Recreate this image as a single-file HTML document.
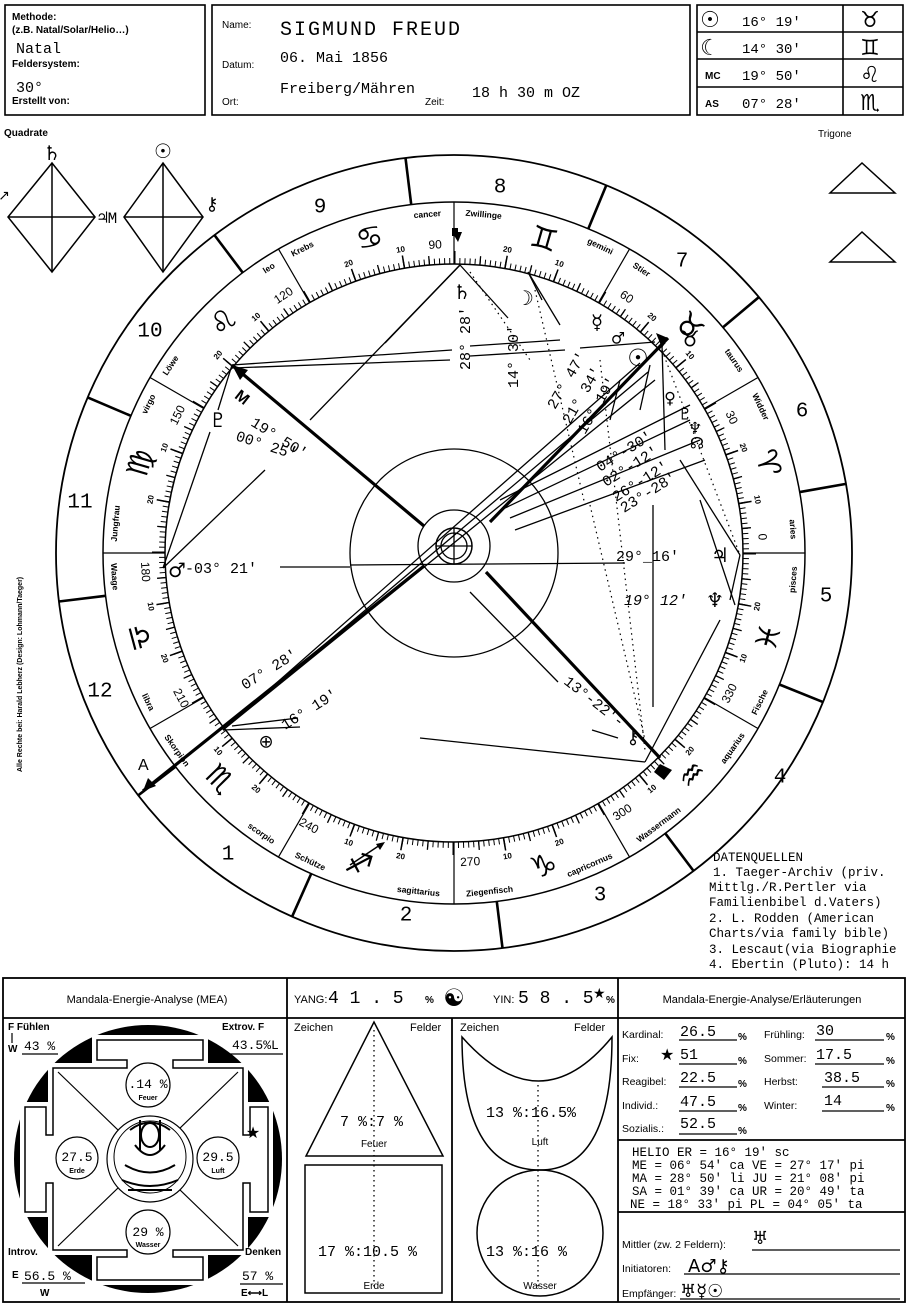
<!DOCTYPE html>
<html><head><meta charset="utf-8">
<style>
html,body{margin:0;padding:0;background:#fff;}
svg{display:block;}
.s{font-family:"Liberation Sans",sans-serif;}
.m{font-family:"Liberation Mono",monospace;}
.d{font-family:"DejaVu Sans",sans-serif;}
.pre{white-space:pre;}
</style></head><body>
<svg width="908" height="1309" viewBox="0 0 908 1309" xmlns="http://www.w3.org/2000/svg">
<rect width="908" height="1309" fill="#fff"/>

<!-- HEADER -->
<g fill="none" stroke="#000" stroke-width="1.6">
<rect x="5" y="5" width="200" height="110"/>
<rect x="212" y="5" width="478" height="110"/>
<rect x="697" y="5" width="206" height="110"/>
<line x1="843" y1="5" x2="843" y2="115"/>
<line x1="697" y1="32" x2="903" y2="32"/>
<line x1="697" y1="59" x2="903" y2="59"/>
<line x1="697" y1="87" x2="903" y2="87"/>
</g>
<g class="s" font-size="10" font-weight="bold">
<text x="12" y="20">Methode:</text>
<text x="12" y="33">(z.B. Natal/Solar/Helio…)</text>
<text x="12" y="67">Feldersystem:</text>
<text x="12" y="104">Erstellt von:</text>
<text x="222" y="28" font-weight="normal">Name:</text>
<text x="222" y="68" font-weight="normal">Datum:</text>
<text x="222" y="105" font-weight="normal">Ort:</text>
<text x="425" y="105" font-weight="normal">Zeit:</text>
<text x="705" y="79">MC</text>
<text x="705" y="107">AS</text>
<text x="818" y="137" font-weight="normal">Trigone</text>
<text x="4" y="136">Quadrate</text>
</g>
<g class="m" font-size="15">
<text x="16" y="53">Natal</text>
<text x="16" y="92">30°</text>
<text x="280" y="35" font-size="20" letter-spacing="2">SIGMUND FREUD</text>
<text x="280" y="62">06. Mai 1856</text>
<text x="280" y="93">Freiberg/Mähren</text>
<text x="472" y="97">18 h 30 m  OZ</text>
<text x="742" y="26" font-size="14">16° 19'</text>
<text x="742" y="53" font-size="14">14° 30'</text>
<text x="742" y="80" font-size="14">19° 50'</text>
<text x="742" y="108" font-size="14">07° 28'</text>
</g>
<g class="d" font-size="22" text-anchor="middle">
<text x="710" y="27">☉</text>
<text x="710" y="55">☾</text>
<text x="870" y="27">♉</text>
<text x="870" y="55">♊</text>
<text x="870" y="82">♌</text>
<text x="870" y="110">♏</text>
</g>

<!-- quadrate / trigone -->
<g fill="none" stroke="#000" stroke-width="1.5">
<polygon points="52,163 95,217 52,272 8,217"/>
<line x1="52" y1="163" x2="52" y2="272"/><line x1="8" y1="217" x2="95" y2="217"/>
<polygon points="163,163 203,217 163,272 124,217"/>
<line x1="163" y1="163" x2="163" y2="272"/><line x1="124" y1="217" x2="203" y2="217"/>
<polygon points="830,193 895,193 862,163"/>
<polygon points="830,262 895,262 862,232"/>
</g>
<g class="d" font-size="20" text-anchor="middle">
<text x="52" y="160">♄</text>
<text x="163" y="158">☉</text>
<text x="212" y="210" font-size="18">⚷</text>
<text x="4" y="200" font-size="14">↗</text>
</g>
<text x="98" y="223" class="m" font-size="16">♃M</text>

<!-- side text -->
<text class="s" font-size="7" font-weight="bold" transform="translate(22,772) rotate(-90)">Alle Rechte bei: Harald Lebherz (Design: Lohmann/Taeger)</text>

<!-- WHEEL -->
<g fill="none" stroke="#000">
<circle cx="454" cy="553" r="398" stroke-width="1.8"/>
<circle cx="454" cy="553" r="351" stroke-width="1.5"/>
<circle cx="454" cy="553" r="289" stroke-width="1.5"/>
<circle cx="454" cy="553" r="292" stroke-width="6" stroke-dasharray="1 4.097"/>
<circle cx="454" cy="553" r="293.5" stroke-width="9" stroke-dasharray="1.3 24.31"/>
<circle cx="454" cy="553" r="295.5" stroke-width="13" stroke-dasharray="1.5 50.07"/>
<circle cx="454" cy="553" r="104" stroke-width="1.3"/>
<circle cx="454" cy="546" r="36" stroke-width="1.3"/>
<circle cx="454" cy="546" r="18" stroke-width="1.5"/>
<circle cx="454" cy="546" r="13" stroke-width="1.3"/>
<line x1="436" y1="546" x2="472" y2="546" stroke-width="1.3"/>
<line x1="454" y1="528" x2="454" y2="564" stroke-width="1.3"/>
</g>
<!-- sign boundaries -->
<g stroke="#000" stroke-width="1.2">
<line x1="743" y1="553" x2="805" y2="553" transform="rotate(0 454 553)"/>
<line x1="743" y1="553" x2="805" y2="553" transform="rotate(-30 454 553)"/>
<line x1="743" y1="553" x2="805" y2="553" transform="rotate(-60 454 553)"/>
<line x1="743" y1="553" x2="805" y2="553" transform="rotate(-90 454 553)"/>
<line x1="743" y1="553" x2="805" y2="553" transform="rotate(-120 454 553)"/>
<line x1="743" y1="553" x2="805" y2="553" transform="rotate(-150 454 553)"/>
<line x1="743" y1="553" x2="805" y2="553" transform="rotate(-180 454 553)"/>
<line x1="743" y1="553" x2="805" y2="553" transform="rotate(-210 454 553)"/>
<line x1="743" y1="553" x2="805" y2="553" transform="rotate(-240 454 553)"/>
<line x1="743" y1="553" x2="805" y2="553" transform="rotate(-270 454 553)"/>
<line x1="743" y1="553" x2="805" y2="553" transform="rotate(-300 454 553)"/>
<line x1="743" y1="553" x2="805" y2="553" transform="rotate(-330 454 553)"/>
</g>
<!-- house cusps -->
<g stroke="#000" stroke-width="2.6">
<line x1="805" y1="553" x2="852" y2="553" transform="rotate(-127 454 553)"/>
<line x1="805" y1="553" x2="852" y2="553" transform="rotate(-97 454 553)"/>
<line x1="805" y1="553" x2="852" y2="553" transform="rotate(-67.5 454 553)"/>
<line x1="805" y1="553" x2="852" y2="553" transform="rotate(-40 454 553)"/>
<line x1="805" y1="553" x2="852" y2="553" transform="rotate(-10 454 553)"/>
<line x1="805" y1="553" x2="852" y2="553" transform="rotate(-338 454 553)"/>
<line x1="805" y1="553" x2="852" y2="553" transform="rotate(-307 454 553)"/>
<line x1="805" y1="553" x2="852" y2="553" transform="rotate(-277 454 553)"/>
<line x1="805" y1="553" x2="852" y2="553" transform="rotate(-246 454 553)"/>
<line x1="805" y1="553" x2="852" y2="553" transform="rotate(-217.5 454 553)"/>
<line x1="805" y1="553" x2="852" y2="553" transform="rotate(-187 454 553)"/>
<line x1="805" y1="553" x2="852" y2="553" transform="rotate(-157 454 553)"/>
</g>
<!-- house numbers -->
<g class="m" font-size="21" text-anchor="middle" dominant-baseline="central">
<text x="320" y="208">9</text><text x="500" y="188">8</text><text x="682" y="262">7</text>
<text x="802" y="412">6</text><text x="826" y="597">5</text><text x="780" y="778">4</text>
<text x="600" y="896">3</text><text x="406" y="916">2</text><text x="228" y="855">1</text>
<text x="100" y="692">12</text><text x="80" y="503">11</text><text x="150" y="332">10</text>
</g>
<!-- sign names -->
<g class="s" font-size="8.5" font-weight="bold" text-anchor="middle" dominant-baseline="central">
<text transform="rotate(-94.5 454 553) translate(794 553) rotate(90)">cancer</text>
<text transform="rotate(-85 454 553) translate(794 553) rotate(90)">Zwillinge</text>
<text transform="rotate(-64.5 454 553) translate(794 553) rotate(90)">gemini</text>
<text transform="rotate(-56.5 454 553) translate(794 553) rotate(90)">Stier</text>
<text transform="rotate(-34.5 454 553) translate(794 553) rotate(90)">taurus</text>
<text transform="rotate(-25.5 454 553) translate(794 553) rotate(90)">Widder</text>
<text transform="rotate(-4 454 553) translate(794 553) rotate(90)">aries</text>
<text transform="rotate(-355.5 454 553) translate(794 553) rotate(-90)">pisces</text>
<text transform="rotate(-334 454 553) translate(794 553) rotate(-90)">Fische</text>
<text transform="rotate(-325 454 553) translate(794 553) rotate(-90)">aquarius</text>
<text transform="rotate(-307 454 553) translate(794 553) rotate(-90)">Wassermann</text>
<text transform="rotate(-293.5 454 553) translate(794 553) rotate(-90)">capricornus</text>
<text transform="rotate(-276 454 553) translate(794 553) rotate(-90)">Ziegenfisch</text>
<text transform="rotate(-264 454 553) translate(794 553) rotate(-90)">sagittarius</text>
<text transform="rotate(-245 454 553) translate(794 553) rotate(-90)">Schütze</text>
<text transform="rotate(-235.5 454 553) translate(794 553) rotate(-90)">scorpio</text>
<text transform="rotate(-215.5 454 553) translate(794 553) rotate(-90)">Skorpion</text>
<text transform="rotate(-206 454 553) translate(794 553) rotate(-90)">libra</text>
<text transform="rotate(-184 454 553) translate(794 553) rotate(-90)">Waage</text>
<text transform="rotate(-175 454 553) translate(794 553) rotate(90)">Jungfrau</text>
<text transform="rotate(-154 454 553) translate(794 553) rotate(90)">virgo</text>
<text transform="rotate(-146.5 454 553) translate(794 553) rotate(90)">Löwe</text>
<text transform="rotate(-123 454 553) translate(794 553) rotate(90)">leo</text>
<text transform="rotate(-116.5 454 553) translate(794 553) rotate(90)">Krebs</text>
</g>
<!-- degree numbers -->
<g class="s" font-size="8" font-weight="bold" text-anchor="middle" dominant-baseline="central">
<text transform="rotate(-10 454 553) translate(762 553) rotate(90)">10</text>
<text transform="rotate(-20 454 553) translate(762 553) rotate(90)">20</text>
<text transform="rotate(-40 454 553) translate(762 553) rotate(90)">10</text>
<text transform="rotate(-50 454 553) translate(762 553) rotate(90)">20</text>
<text transform="rotate(-70 454 553) translate(762 553) rotate(90)">10</text>
<text transform="rotate(-80 454 553) translate(762 553) rotate(90)">20</text>
<text transform="rotate(-100 454 553) translate(762 553) rotate(90)">10</text>
<text transform="rotate(-110 454 553) translate(762 553) rotate(90)">20</text>
<text transform="rotate(-130 454 553) translate(762 553) rotate(90)">10</text>
<text transform="rotate(-140 454 553) translate(762 553) rotate(90)">20</text>
<text transform="rotate(-160 454 553) translate(762 553) rotate(90)">10</text>
<text transform="rotate(-170 454 553) translate(762 553) rotate(90)">20</text>
<text transform="rotate(-190 454 553) translate(762 553) rotate(-90)">10</text>
<text transform="rotate(-200 454 553) translate(762 553) rotate(-90)">20</text>
<text transform="rotate(-220 454 553) translate(762 553) rotate(-90)">10</text>
<text transform="rotate(-230 454 553) translate(762 553) rotate(-90)">20</text>
<text transform="rotate(-250 454 553) translate(762 553) rotate(-90)">10</text>
<text transform="rotate(-260 454 553) translate(762 553) rotate(-90)">20</text>
<text transform="rotate(-280 454 553) translate(762 553) rotate(-90)">10</text>
<text transform="rotate(-290 454 553) translate(762 553) rotate(-90)">20</text>
<text transform="rotate(-310 454 553) translate(762 553) rotate(-90)">10</text>
<text transform="rotate(-320 454 553) translate(762 553) rotate(-90)">20</text>
<text transform="rotate(-340 454 553) translate(762 553) rotate(-90)">10</text>
<text transform="rotate(-350 454 553) translate(762 553) rotate(-90)">20</text>
</g>
<g class="s" font-size="12" text-anchor="middle" dominant-baseline="central">
<text transform="rotate(-3 454 553) translate(763 553) rotate(90)">0</text>
<text transform="rotate(-26 454 553) translate(763 553) rotate(90)">30</text>
<text transform="rotate(-56 454 553) translate(763 553) rotate(90)">60</text>
<text transform="rotate(-93.5 454 553) translate(763 553) rotate(90)">90</text>
<text transform="rotate(-123.5 454 553) translate(763 553) rotate(90)">120</text>
<text transform="rotate(-153.5 454 553) translate(763 553) rotate(90)">150</text>
<text transform="rotate(-183.5 454 553) translate(763 553) rotate(-90)">180</text>
<text transform="rotate(-208 454 553) translate(763 553) rotate(-90)">210</text>
<text transform="rotate(-242 454 553) translate(763 553) rotate(-90)">240</text>
<text transform="rotate(-273 454 553) translate(763 553) rotate(-90)">270</text>
<text transform="rotate(-303 454 553) translate(763 553) rotate(-90)">300</text>
<text transform="rotate(-333 454 553) translate(763 553) rotate(-90)">330</text>
</g>
<!-- sign glyphs -->
<g class="d" font-size="30" text-anchor="middle" dominant-baseline="central">
<text transform="rotate(-16 454 553) translate(780 553) rotate(90)">♈</text>
<text transform="rotate(-44 454 553) translate(780 553) rotate(90)">♉</text>
<text transform="rotate(-74 454 553) translate(780 553) rotate(90)">♊</text>
<text transform="rotate(-105 454 553) translate(780 553) rotate(90)">♋</text>
<text transform="rotate(-135 454 553) translate(780 553) rotate(90)">♌</text>
<text transform="rotate(-164 454 553) translate(780 553) rotate(90)">♍</text>
<text transform="rotate(-195 454 553) translate(780 553) rotate(-90)">♎</text>
<text transform="rotate(-224 454 553) translate(780 553) rotate(-90)">♏</text>
<text transform="rotate(-253 454 553) translate(780 553) rotate(-90)">♐</text>
<text transform="rotate(-286 454 553) translate(780 553) rotate(-90)">♑</text>
<text transform="rotate(-317 454 553) translate(780 553) rotate(-90)">♒</text>
<text transform="rotate(-345 454 553) translate(780 553) rotate(-90)">♓</text>
</g>

<!-- axes -->
<g stroke="#000" stroke-width="3.2" fill="none">
<line x1="232" y1="365" x2="424" y2="526"/>
<line x1="486" y1="572" x2="660" y2="758"/>
<line x1="143" y1="791" x2="424" y2="566"/>
<line x1="490" y1="522" x2="668" y2="338"/>
</g>
<polygon points="143,791 148,778 156,786" fill="#000"/>
<polygon points="232,365 248,370 240,380" fill="#000"/>
<polygon points="668,338 656,333 662,348" fill="#000"/>
<polygon points="660,764 672,770 664,780 654,772" fill="#000"/>
<polygon points="458,242 462,232 452,232" fill="#000"/>
<rect x="452" y="228" width="6" height="8" fill="#000"/>
<text x="138" y="770" class="s" font-size="16">A</text>
<text x="236" y="405" class="s" font-size="16" font-weight="bold" transform="rotate(38 246 398)">M</text>

<!-- aspect lines -->
<g stroke="#000" stroke-width="1.3" fill="none">
<line x1="460" y1="265" x2="385" y2="343"/>
<line x1="460" y1="265" x2="310" y2="420"/>
<line x1="460" y1="265" x2="508" y2="318"/>
<line x1="528" y1="272" x2="560" y2="325"/>
<line x1="528" y1="272" x2="542" y2="300"/>
<line x1="232" y1="365" x2="452" y2="350"/>
<line x1="232" y1="368" x2="450" y2="360"/>
<line x1="470" y1="346" x2="560" y2="340"/>
<line x1="470" y1="356" x2="565" y2="350"/>
<line x1="580" y1="348" x2="655" y2="342"/>
<line x1="232" y1="365" x2="218" y2="410"/>
<line x1="163" y1="568" x2="265" y2="470"/>
<line x1="163" y1="568" x2="210" y2="432"/>
<line x1="280" y1="567" x2="350" y2="567"/>
<line x1="350" y1="565" x2="625" y2="563"/>
<line x1="223" y1="730" x2="640" y2="363"/>
<line x1="223" y1="730" x2="648" y2="372"/>
<line x1="223" y1="730" x2="655" y2="380"/>
<line x1="223" y1="730" x2="300" y2="727"/>
<line x1="420" y1="738" x2="645" y2="762"/>
<line x1="298" y1="718" x2="232" y2="726"/>
<line x1="470" y1="592" x2="558" y2="682"/>
<line x1="592" y1="730" x2="618" y2="738"/>
<line x1="653" y1="505" x2="653" y2="707"/>
<line x1="645" y1="762" x2="720" y2="620"/>
<line x1="680" y1="460" x2="740" y2="555"/>
<line x1="700" y1="500" x2="735" y2="605"/>
<line x1="740" y1="555" x2="730" y2="600"/>
<line x1="500" y1="500" x2="690" y2="405"/>
<line x1="505" y1="508" x2="690" y2="420"/>
<line x1="510" y1="518" x2="700" y2="440"/>
<line x1="515" y1="530" x2="705" y2="460"/>
<line x1="640" y1="410" x2="650" y2="365"/>
<line x1="610" y1="420" x2="620" y2="380"/>
<line x1="662" y1="345" x2="665" y2="450"/>
</g>
<g stroke="#000" stroke-width="1.2" stroke-dasharray="1.5 4" fill="none">
<line x1="470" y1="272" x2="530" y2="360"/>
<line x1="535" y1="290" x2="585" y2="505"/>
<line x1="590" y1="505" x2="645" y2="740"/>
<line x1="600" y1="360" x2="645" y2="750"/>
<line x1="660" y1="345" x2="740" y2="555"/>
</g>
<!-- planet glyphs -->
<g class="d" font-size="20" text-anchor="middle" dominant-baseline="central">
<text x="462" y="292">♄</text>
<text x="525" y="298">☽</text>
<text x="597" y="322">☿</text>
<text x="618" y="338" font-size="16">♂</text>
<text x="638" y="358" font-size="24">☉</text>
<text x="670" y="398" font-size="16">♀</text>
<text x="685" y="414" font-size="16">♇</text>
<text x="695" y="428" font-size="16">♆</text>
<text x="697" y="443" font-size="16">☊</text>
<text x="720" y="555">♃</text>
<text x="715" y="600">♆</text>
<text x="633" y="738" font-size="18">⚷</text>
<text x="218" y="420">♇</text>
<text x="266" y="742" font-size="18">⊕</text>
<text x="177" y="570">♂</text>
<text x="690" y="340" font-size="22">♉</text>
</g>
<!-- degree texts -->
<g class="m" font-size="15">
<text transform="translate(470 370) rotate(-90)">28° 28'</text>
<text transform="translate(518 388) rotate(-90)">14° 30'</text>
<text transform="translate(555 410) rotate(-60)">27° 47'</text>
<text transform="translate(570 425) rotate(-60)">21° 34'</text>
<text transform="translate(585 435) rotate(-60)">16° 19'</text>
<text transform="translate(600 472) rotate(-32)">04°-30'</text>
<text transform="translate(606 487) rotate(-32)">02°-12'</text>
<text transform="translate(616 502) rotate(-32)">26°-12'</text>
<text transform="translate(624 513) rotate(-32)">23°-28'</text>
<text x="616" y="561">29°_16'</text>
<text x="624" y="605" font-style="italic">19°  12'</text>
<text transform="translate(563 683) rotate(38)">13°-22'-</text>
<text x="185" y="573">-03° 21'</text>
<text transform="translate(250 425) rotate(32)">19° 50'</text>
<text transform="translate(235 440) rotate(18)">00° 25'</text>
<text transform="translate(245 690) rotate(-32)">07° 28'</text>
<text transform="translate(285 730) rotate(-32)">16° 19'</text>
</g>
<line x1="350" y1="865" x2="380" y2="845" stroke="#000" stroke-width="1.5"/>
<polygon points="385,842 376,844 380,850" fill="#000"/>

<!-- data sources -->
<g class="m" font-size="12.5">
<text x="713" y="861">DATENQUELLEN</text>
<text x="713" y="876"> 1. Taeger-Archiv (priv.</text>
<text x="709" y="891">Mittlg./R.Pertler via</text>
<text x="709" y="906">Familienbibel d.Vaters)</text>
<text x="709" y="922">2. L. Rodden (American</text>
<text x="709" y="937">Charts/via family bible)</text>
<text x="709" y="953">3. Lescaut(via Biographie</text>
<text x="709" y="968">4. Ebertin (Pluto): 14 h</text>
</g>

<!-- BOTTOM PANEL -->
<g fill="none" stroke="#000" stroke-width="1.8">
<rect x="3" y="978" width="902" height="324"/>
<line x1="3" y1="1018" x2="905" y2="1018"/>
<line x1="287" y1="978" x2="287" y2="1302"/>
<line x1="618" y1="978" x2="618" y2="1302"/>
<line x1="452" y1="1018" x2="452" y2="1302"/>
<line x1="618" y1="1140" x2="905" y2="1140"/>
<line x1="618" y1="1212" x2="905" y2="1212"/>
</g>
<g class="s" font-size="11" text-anchor="middle">
<text x="147" y="1003">Mandala-Energie-Analyse (MEA)</text>
<text x="762" y="1003">Mandala-Energie-Analyse/Erläuterungen</text>
</g>
<text x="294" y="1003" class="s" font-size="11">YANG:</text>
<text x="328" y="1003" class="m" font-size="18">4 1 . 5</text>
<text x="425" y="1003" class="s" font-size="10" font-weight="bold">%</text>
<text x="454" y="1006" class="d" font-size="24" text-anchor="middle">☯</text>
<text x="493" y="1003" class="s" font-size="11">YIN:</text>
<text x="518" y="1003" class="m" font-size="18">5 8 . 5</text>
<text x="593" y="998" class="d" font-size="14">★</text>
<text x="606" y="1003" class="s" font-size="10" font-weight="bold">%</text>

<!-- mandala -->
<circle cx="148" cy="1159" r="134" fill="#000"/>
<path d="M97,1040 H203 V1060 H173 V1068 H243 V1135 H250 V1107 H268 V1212 H250 V1183 H243 V1250 H173 V1257 H203 V1280 H97 V1257 H127 V1250 H53 V1183 H46 V1212 H25 V1107 H46 V1135 H53 V1068 H127 V1060 H97 Z" fill="#fff" stroke="#fff" stroke-width="10"/>
<path d="M97,1040 H203 V1060 H173 V1068 H243 V1135 H250 V1107 H268 V1212 H250 V1183 H243 V1250 H173 V1257 H203 V1280 H97 V1257 H127 V1250 H53 V1183 H46 V1212 H25 V1107 H46 V1135 H53 V1068 H127 V1060 H97 Z" fill="none" stroke="#000" stroke-width="1.5"/>
<g stroke="#000" stroke-width="1.2" fill="#fff">
<line x1="58" y1="1072" x2="238" y2="1246"/>
<line x1="238" y1="1072" x2="58" y2="1246"/>
<circle cx="148" cy="1085" r="22"/>
<circle cx="148" cy="1232" r="22"/>
<circle cx="77" cy="1158" r="21"/>
<circle cx="218" cy="1158" r="21"/>
<circle cx="150" cy="1159" r="43"/>
<circle cx="150" cy="1157" r="36" fill="none" stroke-width="1"/>
</g>
<g stroke="#000" stroke-width="2" fill="none">
<path d="M130,1130 q20,-15 40,0 M135,1145 q15,20 30,0 M125,1165 q25,15 50,0 M122,1180 q28,12 56,0 M140,1120 v30 M160,1120 v30 M128,1190 h44"/>
<ellipse cx="150" cy="1135" rx="9" ry="12"/>
</g>
<g class="m" font-size="13" text-anchor="middle">
<text x="148" y="1088">.14 %</text>
<text x="148" y="1236">29 %</text>
<text x="77" y="1161">27.5</text>
<text x="218" y="1161">29.5</text>
</g>
<g class="s" font-size="7" font-weight="bold" text-anchor="middle">
<text x="148" y="1100">Feuer</text><text x="148" y="1247">Wasser</text>
<text x="77" y="1173">Erde</text><text x="218" y="1173">Luft</text>
</g>
<text x="253" y="1138" class="d" font-size="16" text-anchor="middle">★</text>
<g class="s" font-size="10" font-weight="bold">
<text x="8" y="1030">F  Fühlen</text>
<text x="222" y="1030">Extrov. F</text>
<text x="8" y="1255">Introv.</text>
<text x="245" y="1255">Denken</text>
<text x="8" y="1052">W</text>
<text x="12" y="1278">E</text>
<text x="40" y="1296">W</text>
<text x="241" y="1296">E⟷L</text>
</g>
<g class="m" font-size="13">
<text x="24" y="1050">43 %</text>
<text x="232" y="1049">43.5%L</text>
<text x="24" y="1280">56.5 %</text>
<text x="242" y="1280">57  %</text>
</g>
<g stroke="#000" stroke-width="1.2">
<line x1="22" y1="1054" x2="58" y2="1054"/><line x1="230" y1="1054" x2="283" y2="1054"/>
<line x1="22" y1="1283" x2="85" y2="1283"/><line x1="240" y1="1284" x2="283" y2="1284"/>
<line x1="12" y1="1033" x2="12" y2="1043"/>
</g>

<!-- middle cols -->
<g class="s" font-size="11">
<text x="294" y="1031">Zeichen</text><text x="410" y="1031">Felder</text>
<text x="460" y="1031">Zeichen</text><text x="574" y="1031">Felder</text>
</g>
<g fill="none" stroke="#000" stroke-width="1.5">
<polygon points="306,1156 443,1156 374,1022"/>
<rect x="305" y="1165" width="137" height="128"/>
<path d="M462,1037 Q540,1125 612,1037 Q612,1170 540,1170 Q462,1170 462,1037 Z"/>
<circle cx="540" cy="1233" r="63"/>
</g>
<g stroke="#000" stroke-width="1.3" stroke-dasharray="1.5 3.5">
<line x1="374" y1="1030" x2="374" y2="1290"/>
<line x1="538" y1="1085" x2="538" y2="1290"/>
</g>
<g class="m" font-size="15">
<text x="340" y="1126">7 %:7  %</text>
<text x="318" y="1256">17  %:10.5 %</text>
<text x="486" y="1117">13  %:16.5%</text>
<text x="486" y="1256">13 %:16  %</text>
</g>
<g class="s" font-size="10" text-anchor="middle">
<text x="374" y="1147">Feuer</text><text x="374" y="1289">Erde</text>
<text x="540" y="1145">Luft</text><text x="540" y="1289">Wasser</text>
</g>

<!-- right col -->
<g class="s" font-size="10.5">
<text x="622" y="1038">Kardinal:</text><text x="622" y="1062">Fix:</text>
<text x="622" y="1085">Reagibel:</text><text x="622" y="1109">Individ.:</text>
<text x="622" y="1132">Sozialis.:</text>
<text x="764" y="1038">Frühling:</text><text x="764" y="1062">Sommer:</text>
<text x="764" y="1085">Herbst:</text><text x="764" y="1109">Winter:</text>
<text x="622" y="1248">Mittler (zw. 2 Feldern):</text>
<text x="622" y="1272">Initiatoren:</text>
<text x="622" y="1297">Empfänger:</text>
</g>
<g class="s" font-size="10" font-weight="bold">
<text x="738" y="1040">%</text><text x="738" y="1064">%</text><text x="738" y="1087">%</text>
<text x="738" y="1111">%</text><text x="738" y="1134">%</text>
<text x="886" y="1040">%</text><text x="886" y="1064">%</text><text x="886" y="1087">%</text><text x="886" y="1111">%</text>
</g>
<g stroke="#000" stroke-width="1.2">
<line x1="679" y1="1040" x2="737" y2="1040"/><line x1="679" y1="1064" x2="737" y2="1064"/>
<line x1="679" y1="1087" x2="737" y2="1087"/><line x1="679" y1="1111" x2="737" y2="1111"/>
<line x1="679" y1="1134" x2="737" y2="1134"/>
<line x1="815" y1="1040" x2="884" y2="1040"/><line x1="815" y1="1064" x2="884" y2="1064"/>
<line x1="822" y1="1087" x2="884" y2="1087"/><line x1="822" y1="1111" x2="884" y2="1111"/>
<line x1="752" y1="1250" x2="900" y2="1250"/><line x1="684" y1="1274" x2="900" y2="1274"/>
<line x1="680" y1="1299" x2="900" y2="1299"/>
</g>
<g class="m" font-size="15">
<text x="680" y="1036">26.5</text><text x="680" y="1059">51</text><text x="680" y="1082">22.5</text>
<text x="680" y="1106">47.5</text><text x="680" y="1128">52.5</text>
<text x="816" y="1035">30</text><text x="816" y="1059">17.5</text><text x="824" y="1082">38.5</text>
<text x="824" y="1105">14</text>
</g>
<text x="660" y="1060" class="d" font-size="16">★</text>
<g class="m pre" font-size="12.5">
<text x="632" y="1156">HELIO           ER = 16° 19' sc</text>
<text x="632" y="1169">ME = 06° 54' ca VE = 27° 17' pi</text>
<text x="632" y="1182">MA = 28° 50' li JU = 21° 08' pi</text>
<text x="632" y="1195">SA = 01° 39' ca UR = 20° 49' ta</text>
<text x="630" y="1208">NE = 18° 33' pi PL = 04° 05' ta</text>
</g>
<g class="d" font-size="18">
<text x="752" y="1244">♅</text>
<text x="688" y="1272">A♂⚷</text>
<text x="680" y="1297">♅☿☉</text>
</g>
</svg>
</body></html>
